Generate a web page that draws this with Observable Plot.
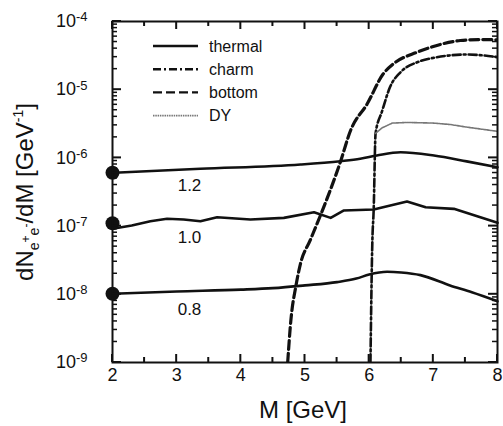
<!DOCTYPE html>
<html><head><meta charset="utf-8">
<script src="https://cdn.jsdelivr.net/npm/d3@7"></script>
<script src="https://cdn.jsdelivr.net/npm/@observablehq/plot@0.6"></script>
<style>body{margin:0;background:#fff;}</style>
</head><body><div id="chart"></div>
<script>
// ---- data ----
const thermal12M = [2.0, 3.37, 4.93, 5.55, 5.86, 6.12, 6.49, 7.01, 7.52, 8.0];
const thermal12V = [6.05e-7, 6.92e-7, 8.0e-7, 8.95e-7, 9.7e-7, 1.084e-6, 1.213e-6, 1.084e-6, 8.9e-7, 7.3e-7];

const thermal10M = [2.0, 2.3, 2.59, 2.85, 3.11, 3.37, 3.63, 4.15, 4.67, 5.14, 5.40, 5.60, 6.07, 6.59, 6.88, 7.32, 8.0];
const thermal10V = [9.12e-8, 1.023e-7, 1.18e-7, 1.28e-7, 1.25e-7, 1.18e-7, 1.35e-7, 1.25e-7, 1.32e-7, 1.60e-7, 1.32e-7, 1.69e-7, 1.75e-7, 2.30e-7, 1.89e-7, 1.79e-7, 1.12e-7];

const thermal08M = [2.0, 3.0, 4.0, 4.5, 5.0, 5.5, 5.8, 6.0, 6.28, 6.5, 6.8, 7.26, 7.6, 8.0];
const thermal08V = [1.02e-8, 1.10e-8, 1.17e-8, 1.23e-8, 1.35e-8, 1.51e-8, 1.70e-8, 1.95e-8, 2.14e-8, 2.09e-8, 1.91e-8, 1.35e-8, 1.07e-8, 7.9e-9];

const bottomM = [4.73, 4.78, 4.86, 4.93, 5.08, 5.24, 5.55, 5.71, 5.97, 6.22, 6.38, 6.75, 7.0, 7.42, 7.7, 8.0];
const bottomV = [1e-9, 4.17e-9, 1.35e-8, 2.82e-8, 6.17e-8, 1.43e-7, 8.65e-7, 2.52e-6, 6.21e-6, 1.71e-5, 2.40e-5, 3.55e-5, 4.30e-5, 5.26e-5, 5.43e-5, 5.40e-5];

const charmM = [6.02, 6.05, 6.07, 6.10, 6.2, 6.33, 6.49, 6.75, 7.0, 7.53, 8.0];
const charmV = [1e-9, 6.17e-8, 1.70e-7, 2.29e-6, 4.8e-6, 1.12e-5, 1.81e-5, 2.53e-5, 2.93e-5, 3.28e-5, 3.0e-5];

const dyM = [6.1, 6.2, 6.36, 6.6, 7.0, 7.26, 7.53, 8.0];
const dyV = [2.29e-6, 2.75e-6, 3.24e-6, 3.31e-6, 3.24e-6, 3.09e-6, 2.82e-6, 2.45e-6];

const dotM = [2, 2, 2];
const dotV = [6.05e-7, 1.10e-7, 1.02e-8];

const curveLabels = ["1.2", "1.0", "0.8"];
const curveLabelM = [3.2, 3.2, 3.2];
const curveLabelV = [3.94e-7, 6.87e-8, 5.98e-9];

const legendNames = ["thermal", "charm", "bottom", "DY"];

const xMajor = [2, 3, 4, 5, 6, 7, 8];
const xMinor = [2.5, 3.5, 4.5, 5.5, 6.5, 7.5];
const yMajor = [1e-9, 1e-8, 1e-7, 1e-6, 1e-5, 1e-4];
const yMinor = [];
for (let e = -9; e < -4; e++) for (let k = 2; k <= 9; k++) yMinor.push(k * Math.pow(10, e));

const series = (M, V) => M.map((m, i) => ({m, v: V[i]}));

const W = 503, H = 426, ML = 112, MR = 6, MT = 21, MB = 64;

const styles = {
  thermal: {stroke: "#111", strokeWidth: 2.6},
  charm: {stroke: "#111", strokeWidth: 2.6, strokeDasharray: "8,3,2,3"},
  bottom: {stroke: "#111", strokeWidth: 3.2, strokeDasharray: "9,4"},
  DY: {stroke: "#777", strokeWidth: 1.6, strokeDasharray: "1.5,0.8"}
};

const plot = Plot.plot({
  width: W, height: H,
  marginLeft: ML, marginRight: MR, marginTop: MT, marginBottom: MB,
  style: {fontFamily: "'Liberation Sans', Arial, sans-serif", fontSize: "18px", color: "#111", background: "#fff"},
  x: {domain: [2, 8]},
  y: {type: "log", domain: [1e-9, 1e-4]},
  marks: [
    Plot.line(series(bottomM, bottomV), {x: "m", y: "v", curve: "monotone-x", clip: true, ...styles.bottom}),
    Plot.line(series(charmM, charmV), {x: "m", y: "v", curve: "monotone-x", clip: true, ...styles.charm}),
    Plot.line(series(dyM, dyV), {x: "m", y: "v", curve: "linear", clip: true, ...styles.DY}),
    Plot.line(series(thermal12M, thermal12V), {x: "m", y: "v", curve: "monotone-x", ...styles.thermal}),
    Plot.line(series(thermal10M, thermal10V), {x: "m", y: "v", curve: "linear", ...styles.thermal}),
    Plot.line(series(thermal08M, thermal08V), {x: "m", y: "v", curve: "monotone-x", ...styles.thermal}),
    Plot.dot(series(dotM, dotV), {x: "m", y: "v", r: 7, fill: "#111", stroke: "none"}),
    Plot.text(curveLabels.map((t, i) => ({t, m: curveLabelM[i], v: curveLabelV[i]})), {x: "m", y: "v", text: "t", fontSize: 17, fill: "#111"}),
    Plot.frame({stroke: "#111", strokeWidth: 2}),
    Plot.axisX({anchor: "bottom", ticks: xMajor, tickSize: 0, tickPadding: 6, fontSize: 18, tickFormat: d => String(d), label: null}),
    Plot.axisY({anchor: "left", ticks: yMajor, tickSize: 0, tickPadding: 25, fontSize: 18, tickFormat: d => String(Math.round(Math.log10(d))), label: null})
  ]
});

document.getElementById("chart").appendChild(plot);

const svg = d3.select(plot);
const sx = plot.scale("x"), sy = plot.scale("y");
const fLeft = ML, fRight = W - MR, fTop = MT, fBottom = H - MB;

// inward tick marks on all four sides, positioned with Plot's scales
const tg = svg.append("g").attr("stroke", "#111").attr("fill", "none");
const xt = (vals, len, w) => vals.forEach(v => {
  const px = sx.apply(v);
  tg.append("line").attr("x1", px).attr("x2", px).attr("y1", fBottom).attr("y2", fBottom - len).attr("stroke-width", w);
  tg.append("line").attr("x1", px).attr("x2", px).attr("y1", fTop).attr("y2", fTop + len).attr("stroke-width", w);
});
const yt = (vals, len, w) => vals.forEach(v => {
  const py = sy.apply(v);
  tg.append("line").attr("y1", py).attr("y2", py).attr("x1", fLeft).attr("x2", fLeft + len).attr("stroke-width", w);
  tg.append("line").attr("y1", py).attr("y2", py).attr("x1", fRight).attr("x2", fRight - len).attr("stroke-width", w);
});
xt(xMajor, 8, 2);
xt(xMinor, 5, 2);
yt(yMajor, 9, 2);
yt(yMinor, 5, 1.5);

// superscript exponents on y tick labels
svg.selectAll('g[aria-label="y-axis tick label"] text').each(function() {
  const t = d3.select(this);
  const txt = t.text();
  if (!txt) return;
  t.text("");
  t.append("tspan").text("10");
  t.append("tspan").attr("dy", "-0.45em").attr("font-size", 13).text(txt);
});

const ff = "'Liberation Sans', Arial, sans-serif";
// x-axis title
svg.append("text").attr("x", 303).attr("y", 418).attr("text-anchor", "middle")
  .attr("font-family", ff).attr("font-size", 24).attr("fill", "#111").text("M [GeV]");
// y-axis title
const yl = svg.append("text").attr("transform", "translate(33,192) rotate(-90)")
  .attr("text-anchor", "middle").attr("font-family", ff).attr("font-size", 24).attr("fill", "#111");
yl.append("tspan").text("dN");
yl.append("tspan").attr("font-size", 14).attr("dy", 6).text("e");
yl.append("tspan").attr("font-size", 12).attr("dy", -9).text("+");
yl.append("tspan").attr("font-size", 14).attr("dy", 9).text("e");
yl.append("tspan").attr("font-size", 12).attr("dy", -9).text("-");
yl.append("tspan").attr("dy", 3).text("/dM [GeV");
yl.append("tspan").attr("font-size", 14).attr("dy", -10).text("-1");
yl.append("tspan").attr("dy", 10).text("]");

// legend
const lg = svg.append("g").attr("font-family", ff).attr("font-size", 16).attr("fill", "#111").attr("text-anchor", "start");
legendNames.forEach((name, i) => {
  const y = 46 + i * 23.2;
  const s = styles[name];
  lg.append("line").attr("x1", 153).attr("x2", 198).attr("y1", y).attr("y2", y)
    .attr("stroke", s.stroke).attr("stroke-width", Math.min(s.strokeWidth, 2.4))
    .attr("stroke-dasharray", s.strokeDasharray || null);
  lg.append("text").attr("x", 209).attr("y", y).attr("dy", "0.35em").attr("text-anchor", "start").text(name);
});
</script>
</body></html>
